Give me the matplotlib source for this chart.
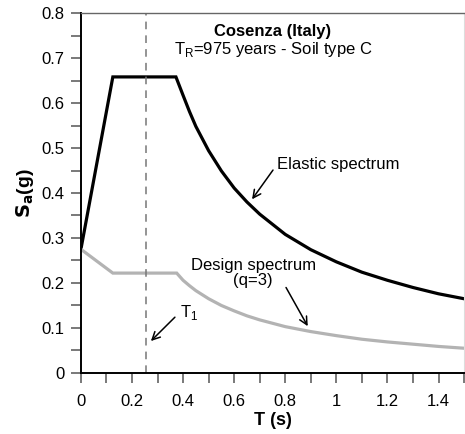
import matplotlib.pyplot as plt
import numpy as np
from matplotlib.ticker import MultipleLocator

plt.rcParams['font.family'] = ['Liberation Sans', 'DejaVu Sans']

# elastic spectrum
T_el = [0, 0.125, 0.372, 0.4, 0.425, 0.45, 0.5, 0.55, 0.6, 0.65, 0.7, 0.8, 0.9, 1.0, 1.1, 1.2, 1.3, 1.4, 1.5]
Sa_el = [0.275, 0.658, 0.658, 0.617, 0.581, 0.548, 0.494, 0.449, 0.411, 0.380, 0.353, 0.308, 0.274, 0.247,
         0.224, 0.206, 0.190, 0.176, 0.165]

# design spectrum (q=3)
T_d = [0, 0.125, 0.375, 0.4, 0.425, 0.45, 0.5, 0.55, 0.6, 0.65, 0.7, 0.8, 0.9, 1.0, 1.1, 1.2, 1.3, 1.4, 1.5]
Sa_d = [0.275, 0.222, 0.222, 0.206, 0.194, 0.183, 0.165, 0.150, 0.138, 0.127, 0.118, 0.103, 0.092, 0.083,
        0.075, 0.069, 0.064, 0.059, 0.055]

T1 = 0.253

xticks = [0, 0.2, 0.4, 0.6, 0.8, 1.0, 1.2, 1.4]
xticklabels = ['0', '0.2', '0.4', '0.6', '0.8', '1', '1.2', '1.4']
yticks = [0, 0.1, 0.2, 0.3, 0.4, 0.5, 0.6, 0.7, 0.8]
yticklabels = ['0', '0.1', '0.2', '0.3', '0.4', '0.5', '0.6', '0.7', '0.8']

fig = plt.figure(figsize=(4.65, 4.34), dpi=100)
ax = fig.add_axes([0.174, 0.1406, 0.824, 0.8294])

ax.plot(T_el, Sa_el, color='black', lw=2.3, solid_joinstyle='miter')
ax.plot(T_d, Sa_d, color='#b3b3b3', lw=2.3, solid_joinstyle='miter')
ax.axvline(T1, color='#777777', lw=1.1, ls=(0, (5, 4)))

ax.set_xticks(xticks)
ax.set_xticklabels(xticklabels)
ax.set_yticks(yticks)
ax.set_yticklabels(yticklabels)
ax.xaxis.set_minor_locator(MultipleLocator(0.1))
ax.yaxis.set_minor_locator(MultipleLocator(0.05))
ax.set_xlim(0, 1.5)
ax.set_ylim(0, 0.8)
ax.tick_params(which='both', direction='out', length=7, width=1.1, color='#555555',
               top=False, right=False)
ax.tick_params(axis='x', which='major', pad=8, labelsize=12)
ax.tick_params(axis='y', which='major', pad=5, labelsize=12)

for s in ['left', 'bottom']:
    ax.spines[s].set_linewidth(1.4)
    ax.spines[s].set_color('black')
ax.spines['top'].set_color('#666666')
ax.spines['top'].set_linewidth(1.0)
ax.spines['right'].set_color('#dddddd')
ax.spines['right'].set_linewidth(0.8)

ax.set_xlabel('T (s)', fontsize=13, fontweight='bold', labelpad=2)
ax.set_ylabel(r'$\mathbf{S_a}$(g)', fontsize=14, fontweight='bold', labelpad=4)

ax.text(0.752, 0.758, 'Cosenza (Italy)', ha='center', va='center', fontsize=12, fontweight='bold')
ax.text(0.752, 0.718, r'T$_\mathregular{R}$=975 years - Soil type C', ha='center', va='center', fontsize=12)

arr = dict(arrowstyle='->', color='black', lw=1.1, mutation_scale=14, shrinkA=0, shrinkB=0)
ax.annotate('', xy=(0.670, 0.386), xytext=(0.752, 0.451), arrowprops=arr)
ax.text(0.768, 0.464, 'Elastic spectrum', ha='left', va='center', fontsize=12)

ax.annotate('', xy=(0.888, 0.104), xytext=(0.803, 0.190), arrowprops=arr)
ax.text(0.674, 0.222, 'Design spectrum\n(q=3)', ha='center', va='center', fontsize=12,
        linespacing=1.0)

ax.annotate('', xy=(0.274, 0.071), xytext=(0.368, 0.124), arrowprops=arr)
ax.text(0.386, 0.135, r'T$_\mathregular{1}$', ha='left', va='center', fontsize=12)

fig.savefig('out.png', dpi=100)
